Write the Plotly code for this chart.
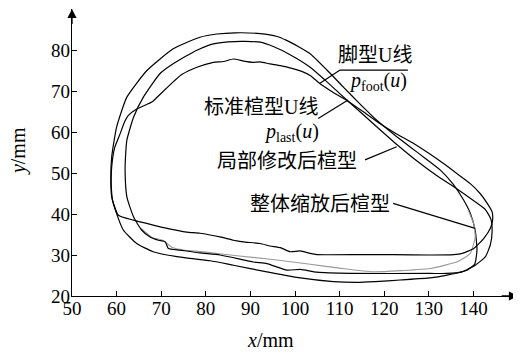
import plotly.graph_objects as go

# ---------------- data ----------------
# foot U-line p_foot(u) (measured, wiggly)
foot_x = [58.9, 59.6, 60.8, 61.8, 62.6, 64.5, 66.5, 67.9, 71.0, 74.6, 78.0, 81.7, 84.0, 86.2, 88.5,
          90.5, 92.2, 94.4, 96.7, 99.7, 101.5, 103.4, 105.7, 108.5, 111.6, 115.5, 119.1, 122.8, 126.6,
          130.0, 133.3, 136.5, 139.3, 141.5, 143.1, 144.2, 144.3, 143.8, 142.3, 140.1, 137.5, 135.6,
          130.3, 122.0, 115.4, 104.9, 103.4, 101.2, 98.9, 96.7, 94.4, 92.2, 88.4, 86.2, 83.2, 78.7,
          75.7, 71.3, 68.2, 63.8, 60.4, 59.1, 58.8, 58.9]
foot_y = [51.5, 56.3, 59.6, 62.5, 64.0, 65.6, 66.6, 67.3, 70.5, 74.0, 75.8, 77.0, 77.2, 77.8, 77.3,
          77.0, 77.1, 76.6, 76.2, 75.4, 74.8, 73.8, 71.7, 69.7, 67.7, 64.8, 62.0, 59.5, 57.2,
          54.8, 52.3, 49.7, 47.4, 45.0, 42.6, 40.5, 38.5, 36.5, 34.0, 31.6, 30.4, 30.1,
          30.0, 30.1, 30.1, 30.1, 30.4, 31.0, 30.8, 31.8, 32.2, 32.8, 33.2, 33.6, 34.4, 35.3,
          35.6, 36.5, 37.3, 38.5, 39.7, 43.4, 47.0, 51.5]

# standard last U-line p_last(u)
last_x = [88.8, 92.2, 95.0, 99.0, 103.4, 106.8, 110.1, 114.0, 118.0, 122.9, 127.5, 132.0, 136.5,
          140.0, 142.6, 143.9, 144.2, 143.8, 142.7, 140.4, 137.4, 134.0, 130.3, 112.4, 104.9, 101.2,
          98.2, 93.7, 90.7, 83.2, 78.7, 74.2, 71.6, 70.9, 69.4, 67.5, 65.6, 63.8, 62.3, 61.9, 62.0,
          62.3, 63.8, 66.0, 69.7, 72.5, 75.7, 78.5, 81.7, 85.0, 88.8]
last_y = [82.1, 81.9, 80.9, 78.8, 75.8, 72.6, 69.3, 65.5, 61.6, 56.9, 52.8, 49.2, 46.0,
          43.3, 41.2, 38.8, 36.0, 32.5, 29.6, 27.5, 25.9, 25.5, 25.5, 25.5, 25.8, 26.5,
          26.3, 27.9, 28.3, 30.0, 30.5, 31.2, 31.6, 33.2, 33.6, 34.4, 36.1, 39.3, 44.2, 50.7, 54.0,
          58.0, 63.6, 68.5, 74.2, 76.5, 78.6, 80.2, 81.5, 82.0, 82.1]

# outer last (smooth, largest)
outer_x = [86.6, 92.2, 96.0, 98.0, 100.8, 103.4, 107.0, 110.9, 114.6, 118.4, 122.2, 125.9, 129.3,
           132.6, 135.5, 137.8, 139.3, 140.4, 140.8, 140.3, 138.6, 134.1, 130.3, 123.6, 118.0, 113.9,
           108.6, 101.2, 93.7, 86.2, 81.0, 73.5, 68.2, 64.5, 61.5, 60.0, 58.9, 58.7, 58.9, 60.0,
           62.3, 66.8, 72.7, 78.7, 82.5, 86.6]
outer_y = [84.2, 84.0, 83.3, 82.4, 80.8, 79.1, 75.3, 70.9, 66.8, 62.8, 59.4, 56.3, 53.5,
           50.7, 47.2, 43.4, 40.2, 36.0, 31.2, 27.8, 26.3, 25.1, 24.4, 23.9, 23.5, 23.3,
           23.5, 24.4, 25.9, 27.5, 28.6, 29.6, 30.8, 32.8, 36.1, 40.1, 44.2, 49.0, 53.9, 61.2,
           68.5, 75.0, 80.3, 83.1, 83.9, 84.2]

# grey partial curve
grey_x = [138.8, 140.1, 140.4, 139.3, 136.5, 130.3, 124.0, 117.6, 110.0, 103.0, 95.0, 87.0,
          80.0, 75.0, 72.5, 70.5, 68.0, 65.5]
grey_y = [41.0, 37.5, 34.4, 30.4, 28.4, 26.7, 26.2, 25.9, 26.8, 27.8, 28.9, 29.8,
          30.7, 31.2, 31.8, 33.5, 34.3, 36.5]

x_ticks = [50, 60, 70, 80, 90, 100, 110, 120, 130, 140]
y_ticks = [20, 30, 40, 50, 60, 70, 80]

# label texts, positions (data coords) and leader lines (data coords)
label_texts = ["脚型U线", "<i>p</i><sub>foot</sub>(<i>u</i>)", "标准楦型U线",
               "<i>p</i><sub>last</sub>(<i>u</i>)", "局部修改后楦型", "整体缩放后楦型"]
label_x = [117.9, 118.6, 92.4, 99.3, 98.2, 105.6]
label_y = [78.8, 72.3, 66.1, 59.9, 52.9, 42.4]
leader_x0 = [110.1, 110.1, 105.2, 115.7, 122.0]
leader_y0 = [75.1, 75.1, 63.3, 53.2, 42.6]
leader_x1 = [125.3, 105.6, 111.9, 122.8, 140.4]
leader_y1 = [75.1, 71.9, 67.8, 56.4, 36.5]

SERIF = "Liberation Serif, Times New Roman, Noto Sans CJK SC, serif"
MIX = "Liberation Serif, Noto Sans CJK SC, serif"

fig = go.Figure()
for xs, ys, col, w in [(outer_x, outer_y, "black", 1.2),
                       (grey_x, grey_y, "#9a9a9a", 1.1),
                       (last_x, last_y, "black", 1.2),
                       (foot_x, foot_y, "black", 1.2)]:
    fig.add_trace(go.Scatter(x=xs, y=ys, mode="lines",
                             line=dict(color=col, width=w, shape="spline", smoothing=0.5),
                             hoverinfo="skip", showlegend=False))

for x0, y0, x1, y1 in zip(leader_x0, leader_y0, leader_x1, leader_y1):
    fig.add_shape(type="line", x0=x0, y0=y0, x1=x1, y1=y1, xref="x", yref="y",
                  line=dict(color="black", width=1.2))

annotations = []
for t, x, y in zip(label_texts, label_x, label_y):
    annotations.append(dict(text=t, x=x, y=y, xref="x", yref="y", showarrow=False,
                            font=dict(family=MIX, size=20, color="black"),
                            xanchor="center", yanchor="middle"))

# axis arrows
annotations.append(dict(x=150, y=20, ax=146, ay=20, xref="x", yref="y", axref="x", ayref="y",
                        text="", showarrow=True, arrowhead=2, arrowsize=1.4, arrowwidth=1.3,
                        arrowcolor="black"))
annotations.append(dict(x=50, y=90, ax=50, ay=86, xref="x", yref="y", axref="x", ayref="y",
                        text="", showarrow=True, arrowhead=2, arrowsize=1.4, arrowwidth=1.3,
                        arrowcolor="black"))
# axis titles
annotations.append(dict(text="<i>x</i>/mm", x=0.444, y=-0.153, xref="paper", yref="paper",
                        showarrow=False, font=dict(family=SERIF, size=20, color="black"),
                        xanchor="center", yanchor="middle"))
annotations.append(dict(text="<i>y</i>/mm", x=-0.121, y=0.505, xref="paper", yref="paper",
                        showarrow=False, textangle=-90,
                        font=dict(family=SERIF, size=20, color="black"),
                        xanchor="center", yanchor="middle"))

# the page body adds an 8px offset, so the figure is 8px smaller and the margins shifted
fig.update_layout(
    width=513, height=345,
    margin=dict(l=64, r=3, t=1, b=57, autoexpand=False),
    paper_bgcolor="white", plot_bgcolor="white",
    showlegend=False,
    annotations=annotations,
    xaxis=dict(range=[50, 150], tickvals=x_ticks, ticktext=[str(v) for v in x_ticks],
               ticks="inside", ticklen=5, tickwidth=1, tickcolor="black",
               showline=True, linecolor="black", linewidth=1.3, automargin=False,
               showgrid=False, zeroline=False, ticklabelstandoff=-5,
               tickfont=dict(family=SERIF, size=19, color="black")),
    yaxis=dict(range=[20, 90], tickvals=y_ticks, ticktext=[str(v) for v in y_ticks],
               ticks="inside", ticklen=5, tickwidth=1, tickcolor="black",
               showline=True, linecolor="black", linewidth=1.3, automargin=False,
               showgrid=False, zeroline=False, ticklabelstandoff=-3,
               tickfont=dict(family=SERIF, size=19, color="black")),
)

fig.write_html("out.html")
